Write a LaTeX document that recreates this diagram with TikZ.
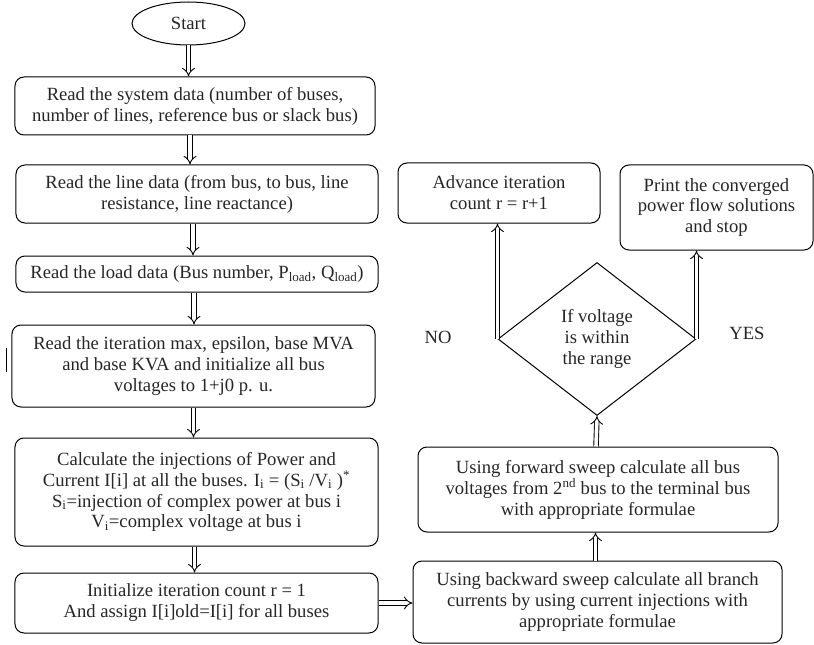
\documentclass[tikz,border=0pt]{standalone}
\usepackage{fontspec}
\setmainfont{Liberation Serif}
\usetikzlibrary{shapes.geometric,arrows.meta}
\begin{document}
\begin{tikzpicture}[x=1bp,y=-1bp,
  every node/.style={font=\fontsize{18.7}{21}\selectfont, text=black!85, align=center, inner sep=0pt},
  pbox/.style={draw, line width=1bp, rounded corners=9bp},
  harrow/.style={draw, line width=0.9bp, double, double distance=3.6bp, -{Implies[length=6bp, width=13bp]}},
  lbl/.style={font=\fontsize{18.7}{21}\selectfont}]
\useasboundingbox (0,0) rectangle (814,645);
\node[draw, line width=1bp, ellipse, minimum width=113bp, minimum height=43bp] (start) at (188.5,23.5) {Start};
\node[pbox, minimum width=360bp, minimum height=58bp] (b1) at (195,106) {Read the system data (number of buses,\\number of lines, reference bus or slack bus)};
\node[pbox, minimum width=362bp, minimum height=58bp] (b2) at (197,194) {Read the line data (from bus, to bus, line\\resistance, line reactance)};
\node[pbox, minimum width=362bp, minimum height=36bp] (b3) at (197,274) {Read the load data (Bus number, P\textsubscript{load}, Q\textsubscript{load})};
\node[pbox, minimum width=363bp, minimum height=82bp] (b4) at (193.5,366) {Read the iteration max, epsilon, base MVA\\and base KVA and initialize all bus\\voltages to 1+j0 p. u.};
\node[pbox, minimum width=363bp, minimum height=108bp] (b5) at (196.5,492) {Calculate the injections of Power and\\Current I[i] at all the buses. I\textsubscript{i} = (S\textsubscript{i} /V\textsubscript{i} )\textsuperscript{*}\\S\textsubscript{i}=injection of complex power at bus i\\V\textsubscript{i}=complex voltage at bus i};
\node[pbox, minimum width=363bp, minimum height=60bp] (b6) at (196.5,603) {Initialize iteration count r = 1\\And assign I[i]old=I[i] for all buses};
\node[pbox, minimum width=369bp, minimum height=82bp] (b7) at (597.5,602) {Using backward sweep calculate all branch\\currents by using current injections with\\appropriate formulae};
\node[pbox, minimum width=360bp, minimum height=85bp] (b8) at (598,489.5) {Using forward sweep calculate all bus\\voltages from 2\textsuperscript{nd} bus to the terminal bus\\with appropriate formulae};
\node[draw, line width=1bp, diamond, aspect=1.294, minimum width=198bp, minimum height=153bp] (dia) at (597,339) {If voltage\\is within\\the range};
\node[pbox, minimum width=202bp, minimum height=60bp] (adv) at (499,193) {Advance iteration\\count r = r+1};
\node[pbox, minimum width=193bp, minimum height=85bp] (prt) at (716.5,207.5) {Print the converged\\power flow solutions\\and stop};
\node[lbl] (no) at (438,337) {NO};
\node[lbl] (yes) at (747,333) {YES};
\coordinate (bar1) at (6,348);
\coordinate (bar2) at (6,372);
\draw[line width=1bp] (bar1) -- (bar2);
\draw[harrow] (start.south) -- (start.south |- b1.north);
\draw[harrow] ([xshift=-5bp]b1.south) -- ([xshift=-5bp]b1.south |- b2.north);
\draw[harrow] ([xshift=-4bp]b2.south) -- ([xshift=-4bp]b2.south |- b3.north);
\draw[harrow] ([xshift=-3bp]b3.south) -- ([xshift=-3bp]b3.south |- b4.north);
\draw[harrow] (b4.south) -- (b4.south |- b5.north);
\draw[harrow] ([xshift=-2bp]b5.south) -- ([xshift=-2bp]b5.south |- b6.north);
\draw[harrow] (b6.east) -- (b6.east -| b7.west);
\draw[harrow] ([xshift=-2bp]b7.north) -- ([xshift=-2bp]b7.north |- b8.south);
\draw[harrow] ([xshift=-2bp]b8.north) -- (dia.south);
\draw[harrow] (dia.west) -- (dia.west |- adv.south);
\draw[harrow] (dia.east) -- (dia.east |- prt.south);
\end{tikzpicture}
\end{document}
